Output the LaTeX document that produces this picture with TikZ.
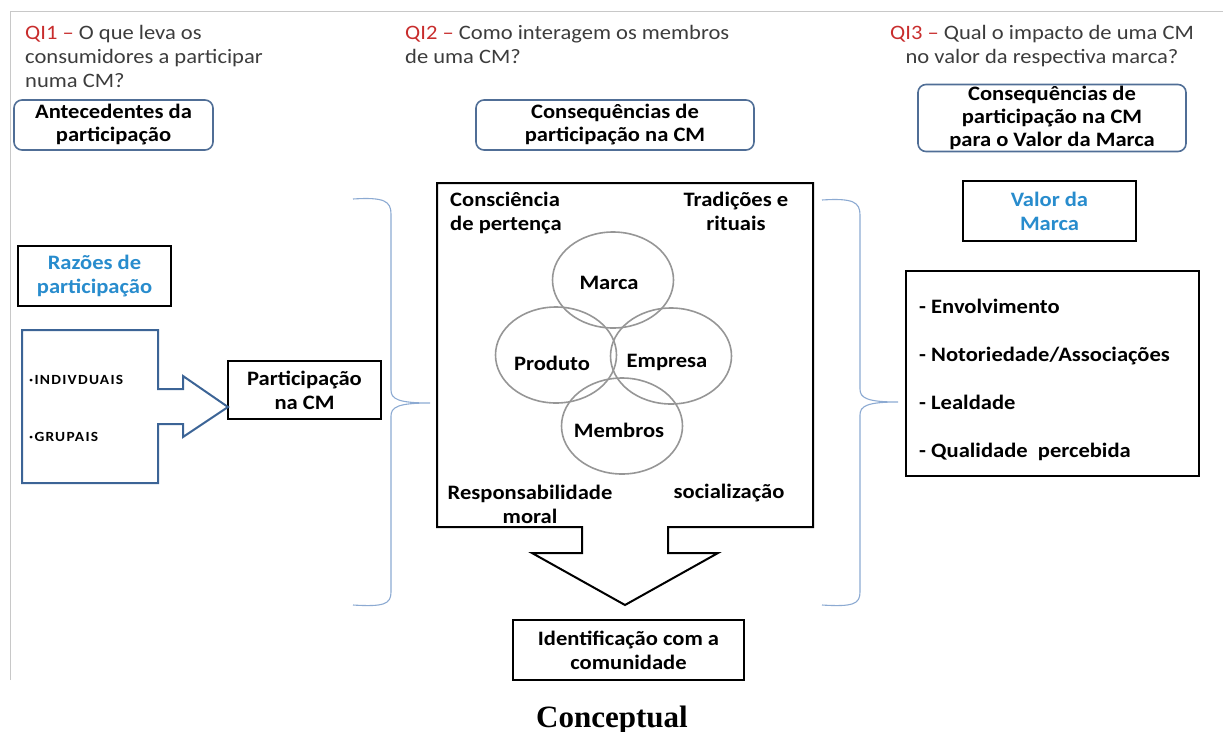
\documentclass[tikz,border=0pt]{standalone}
\usepackage{fontspec}
\setmainfont[FakeStretch=1.1]{Carlito}
\newfontfamily\titlefont{Liberation Serif}
\usetikzlibrary{shapes.geometric}
\definecolor{qred}{RGB}{200,45,45}
\definecolor{qblue}{RGB}{40,140,205}
\definecolor{headgray}{RGB}{60,60,60}
\definecolor{boxblue}{RGB}{80,110,150}
\definecolor{arrowblue}{RGB}{60,100,150}
\definecolor{bracecol}{RGB}{140,170,210}
\definecolor{ringgray}{RGB}{150,150,150}
\definecolor{framegray}{RGB}{200,200,200}
\begin{document}
\begin{tikzpicture}[x=1pt,y=-1pt,
    head/.style={align=left,anchor=base west,inner sep=0pt,text=headgray,
      font=\fontsize{20.5}{24}\selectfont},
    roundbox/.style={draw=boxblue,line width=1.6pt,rounded corners=8pt,align=center,
      inner sep=0pt,font=\fontsize{20.5}{23}\selectfont\bfseries},
    plainbox/.style={draw=black,line width=1.6pt,align=center,inner sep=0pt,
      font=\fontsize{20.5}{24}\selectfont\bfseries},
    ring/.style={ellipse,draw=ringgray,line width=1.6pt,inner sep=0pt,
      minimum width=121pt,minimum height=96pt},
    ringtext/.style={anchor=base,inner sep=0pt,font=\fontsize{20.5}{24}\selectfont\bfseries},
    item/.style={anchor=base west,inner sep=0pt,font=\fontsize{20.5}{24}\selectfont\bfseries},
    reason/.style={anchor=base west,inner sep=0pt,
      font=\fontsize{14}{16}\selectfont\bfseries\addfontfeature{LetterSpace=9}},
    brace/.style={draw=bracecol,line width=1.1pt},
    block/.style={line width=2pt,line join=miter}]
  \useasboundingbox (0,0) rectangle (1223,731);
  \draw[framegray,line width=1pt] (10,680) -- (10,11) -- (1223,11);

  % questions
  \node[head] (qi1) at (25,87) {\textcolor{qred}{QI1 –} O que leva os\\consumidores a participar\\numa CM?};
  \node[head] (qi2) at (405,63) {\textcolor{qred}{QI2 –} Como interagem os membros\\de uma CM?};
  \node[head,align=center,anchor=base] (qi3) at (1042,63) {\textcolor{qred}{QI3 –} Qual o impacto de uma CM\\no valor da respectiva marca?};

  % section titles
  \node[roundbox,minimum width=199pt,minimum height=50pt] (ante) at (113.5,125) {Antecedentes da\\participação};
  \node[roundbox,minimum width=278pt,minimum height=50pt] (conseq) at (615,125) {Consequências de\\participação na CM};
  \node[roundbox,minimum width=268pt,minimum height=67pt] (conseqvm) at (1052,118) {Consequências de\\participação na CM\\para o Valor da Marca};

  % left column
  \node[plainbox,text=qblue,minimum width=153pt,minimum height=60pt] (razoes) at (94.5,276) {Razões de\\participação};
  \node[plainbox,minimum width=153pt,minimum height=58pt] (part) at (304.5,390) {Participação\\na CM};
  \coordinate (tip) at (228,407);
  \draw[block,draw=arrowblue] (22,330) -- (158,330) -- (158,389) -- (183,389) -- (183,376)
    -- (tip) -- (183,437) -- (183,424) -- (158,424) -- (158,483) -- (22,483) -- cycle;
  \node[reason] (indiv) at (29,384) {·INDIVDUAIS};
  \node[reason] (grup) at (29,441) {·GRUPAIS};

  % braces
  \draw[brace] (353,199) .. controls (384,197) and (391,201) .. (391,214) -- (391,390)
    .. controls (391,399) and (398,403) .. (430,403) .. controls (398,403) and (391,407) .. (391,416)
    -- (391,592) .. controls (391,604) and (384,607) .. (353,605);
  \draw[brace] (822,200) .. controls (853,198) and (860,202) .. (860,215) -- (860,389)
    .. controls (860,398) and (867,402) .. (898,402) .. controls (867,402) and (860,406) .. (860,415)
    -- (860,592) .. controls (860,604) and (853,607) .. (822,605);

  % centre block
  \coordinate (down) at (625,605);
  \draw[block] (437,183) -- (813,183) -- (813,527) -- (668,527) -- (668,553) -- (718,553)
    -- (down) -- (532,553) -- (582,553) -- (582,527) -- (437,527) -- cycle;
  \node[item,align=left] (consc) at (450,230) {Consciência\\de pertença};
  \node[item,align=center,anchor=base] (trad) at (736,230) {Tradições e\\rituais};
  \node[item,align=center,anchor=base] (resp) at (530,523) {Responsabilidade\\moral};
  \node[item,anchor=base] (social) at (729,498) {socialização};
  \node[ring] (marca) at (613,280) {};
  \node[ring] (produto) at (556,355) {};
  \node[ring] (empresa) at (671,356) {};
  \node[ring] (membros) at (622,426) {};
  \node[ringtext] (marcat) at (609,289) {Marca};
  \node[ringtext] (produtot) at (552,370) {Produto};
  \node[ringtext] (empresat) at (667,367) {Empresa};
  \node[ringtext] (membrost) at (619,437) {Membros};
  \node[plainbox,minimum width=231pt,minimum height=60pt] (ident) at (628.5,650) {Identificação com a\\comunidade};

  % right column
  \node[plainbox,text=qblue,minimum width=173pt,minimum height=60pt] (valor) at (1049.5,211) {Valor da\\Marca};
  \node[plainbox,minimum width=293pt,minimum height=205pt] (lista) at (1052.5,373.5) {};
  \node[item] (envol) at (919,313) {- Envolvimento};
  \node[item] (noto) at (919,361) {- Notoriedade/Associações};
  \node[item] (leal) at (919,409) {- Lealdade};
  \node[item] (qual) at (919,457) {- Qualidade\ \ percebida};

  \node[inner sep=0pt,anchor=base,font=\titlefont\bfseries\fontsize{31}{31}\selectfont] (titulo) at (612,727) {Conceptual};
\end{tikzpicture}
\end{document}
